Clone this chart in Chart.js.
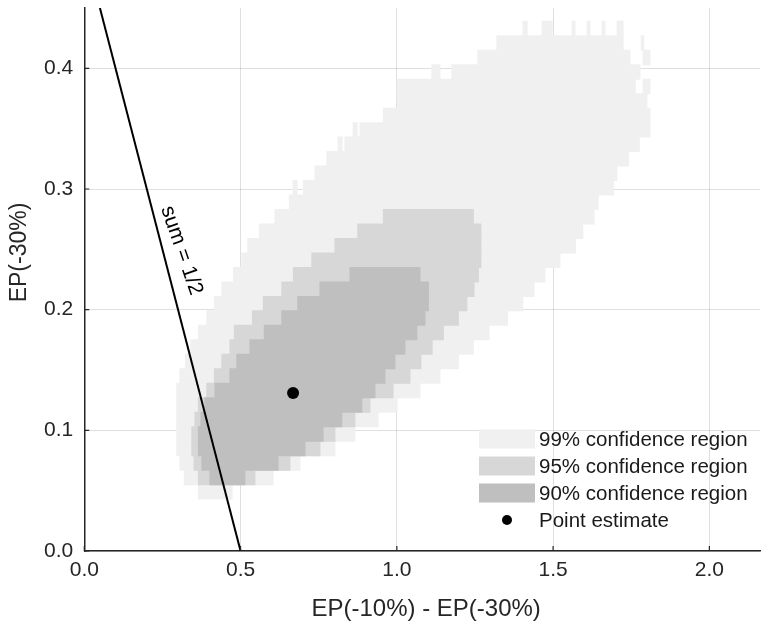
<!DOCTYPE html>
<html><head><meta charset="utf-8">
<script src="https://cdn.jsdelivr.net/npm/chart.js@4/dist/chart.umd.min.js"></script>
<style>html,body{margin:0;padding:0;background:#fff;overflow:hidden;}#wrap{width:761px;height:626px;position:relative;}</style>
</head><body><div id="wrap"><canvas id="c"></canvas></div>
<script>
// ---- data ----
const xTickValues = [0, 0.5, 1.0, 1.5, 2.0];
const yTickValues = [0, 0.1, 0.2, 0.3, 0.4];
const xTitle = 'EP(-10%) - EP(-30%)';
const yTitle = 'EP(-30%)';
const regionLabels = ['99% confidence region', '95% confidence region', '90% confidence region'];
const pointLabel = 'Point estimate';
const lineLabel = 'sum = 1/2';
// centre of each grid row (EP(-30%))
const rowY = [0.433,0.421,0.409,0.397,0.385,0.373,0.361,0.349,0.337,0.325,0.313,0.301,0.289,0.277,0.265,0.253,0.241,0.229,0.217,0.205,0.193,0.181,0.169,0.157,0.145,0.133,0.121,0.109,0.097,0.085,0.073,0.061,0.049];
// per row: covered intervals of EP(-10%) - EP(-30%)
const region99 = [
 [[1.404,1.417],[1.465,1.497],[1.561,1.570],[1.609,1.618],[1.657,1.666],[1.705,1.724]],
 [[1.320,1.724],[1.782,1.790]],
 [[1.259,1.746],[1.788,1.810]],
 [[1.112,1.138],[1.176,1.778]],
 [[1.001,1.763],[1.788,1.810]],
 [[1.001,1.800]],
 [[0.957,1.810]],
 [[0.860,0.873],[0.882,1.810]],
 [[0.812,0.825],[0.834,1.776]],
 [[0.776,1.741]],
 [[0.738,1.704]],
 [[0.668,0.681],[0.701,1.693]],
 [[0.656,1.644]],
 [[0.610,1.631]],
 [[0.560,1.595]],
 [[0.523,1.572]],
 [[0.504,1.522]],
 [[0.477,1.474]],
 [[0.440,1.439]],
 [[0.416,1.403]],
 [[0.392,1.354]],
 [[0.365,1.295]],
 [[0.341,1.245]],
 [[0.324,1.197]],
 [[0.306,1.138]],
 [[0.296,1.074]],
 [[0.296,1.001]],
 [[0.296,0.940]],
 [[0.296,0.866]],
 [[0.296,0.802]],
 [[0.306,0.690]],
 [[0.320,0.604]],
 [[0.365,0.473]]
];
const region95 = [
 [],[],[],[],[],[],[],[],[],[],[],[],[],
 [[0.957,1.245]],
 [[0.875,1.269]],
 [[0.802,1.269]],
 [[0.728,1.269]],
 [[0.669,1.261]],
 [[0.632,1.247]],
 [[0.573,1.224]],
 [[0.538,1.197]],
 [[0.480,1.149]],
 [[0.466,1.113]],
 [[0.440,1.077]],
 [[0.416,1.042]],
 [[0.392,0.988]],
 [[0.365,0.914]],
 [[0.354,0.866]],
 [[0.344,0.802]],
 [[0.344,0.754]],
 [[0.351,0.658]],
 [[0.365,0.546]],
 []
];
const region90 = [
 [],[],[],[],[],[],[],[],[],[],[],[],[],[],[],[],[],
 [[0.850,1.074]],
 [[0.754,1.101]],
 [[0.683,1.101]],
 [[0.632,1.090]],
 [[0.576,1.064]],
 [[0.530,1.026]],
 [[0.488,0.994]],
 [[0.466,0.962]],
 [[0.418,0.930]],
 [[0.386,0.888]],
 [[0.373,0.824]],
 [[0.365,0.764]],
 [[0.365,0.706]],
 [[0.376,0.620]],
 [[0.402,0.514]],
 []
];
const sumLineX = [0.5, 0.05];
const sumLineY = [0.0, 0.45];
const pointX = [0.668];
const pointY = [0.131];

// ---- build ----
const regionColors = ['#f0f0f0', '#d7d7d7', '#bfbfbf'];
function toBars(rows){
  const out = [];
  rows.forEach((segs, i) => segs.forEach(s => out.push({y: rowY[i], x: [s[0], s[1]]})));
  return out;
}
function regionDataset(rows, i, order){
  return {
    type: 'bar', label: regionLabels[i], data: toBars(rows), indexAxis: 'y',
    backgroundColor: regionColors[i], borderWidth: 0, grouped: false,
    barPercentage: 1, categoryPercentage: 1, inflateAmount: 0.5, order: order
  };
}
const FONT = "'Liberation Sans', Arial, Helvetica, sans-serif";
const AXC = '#262626';

const overlay = {
  id: 'overlay',
  afterDraw(chart){
    const ctx = chart.ctx, xs = chart.scales.x, ys = chart.scales.y, a = chart.chartArea;
    // inward tick marks
    ctx.save();
    ctx.strokeStyle = AXC; ctx.lineWidth = 1.2;
    ctx.beginPath();
    xTickValues.forEach(v => { const p = xs.getPixelForValue(v); ctx.moveTo(p, a.bottom); ctx.lineTo(p, a.bottom - 5); });
    yTickValues.forEach(v => { const p = ys.getPixelForValue(v); ctx.moveTo(a.left, p); ctx.lineTo(a.left + 5, p); });
    ctx.stroke();
    ctx.restore();
    ctx.save();
    // text along the sum line
    const tx = xs.getPixelForValue(0.311), ty = ys.getPixelForValue(0.249);
    ctx.translate(tx, ty);
    ctx.rotate(71 * Math.PI / 180);
    ctx.fillStyle = '#000';
    ctx.font = '21px ' + FONT;
    ctx.textAlign = 'center'; ctx.textBaseline = 'middle';
    ctx.fillText(lineLabel, 0, 0);
    ctx.restore();
    // axis titles
    ctx.save();
    ctx.fillStyle = AXC;
    ctx.font = '24px ' + FONT;
    ctx.textAlign = 'center'; ctx.textBaseline = 'alphabetic';
    ctx.fillText(xTitle, (a.left + a.right) / 2 + 4, 615.5);
    ctx.translate(26, (a.top + a.bottom) / 2 - 27);
    ctx.rotate(-Math.PI / 2);
    ctx.font = '23px ' + FONT;
    ctx.fillText(yTitle, 0, 0);
    ctx.restore();
    // legend
    ctx.save();
    ctx.font = '20.5px ' + FONT;
    ctx.textBaseline = 'middle'; ctx.textAlign = 'left';
    const bx = a.right - 281, bw = 56, bh = 19, tx0 = a.right - 221;
    const ys0 = [a.bottom - 112, a.bottom - 85, a.bottom - 58, a.bottom - 31];
    for (let i = 0; i < 3; i++){
      ctx.fillStyle = regionColors[i];
      ctx.fillRect(bx, ys0[i] - bh/2, bw, bh);
      ctx.fillStyle = '#1a1a1a';
      ctx.fillText(regionLabels[i], tx0, ys0[i] + 1);
    }
    ctx.fillStyle = '#000';
    ctx.beginPath(); ctx.arc(bx + bw/2, ys0[3], 5, 0, Math.PI*2); ctx.fill();
    ctx.fillStyle = '#1a1a1a';
    ctx.fillText(pointLabel, tx0, ys0[3] + 1);
    ctx.restore();
  }
};

new Chart(document.getElementById('c'), {
  type: 'bar',
  data: {
    datasets: [
      regionDataset(region99, 0, 10),
      regionDataset(region95, 1, 9),
      regionDataset(region90, 2, 8),
      { type: 'line', label: lineLabel, data: sumLineX.map((x, i) => ({x, y: sumLineY[i]})),
        borderColor: '#000', borderWidth: 2, pointRadius: 0, fill: false, order: 2 },
      { type: 'line', label: pointLabel, data: pointX.map((x, i) => ({x, y: pointY[i]})),
        showLine: false, pointRadius: 6, pointBackgroundColor: '#000', pointBorderWidth: 0, order: 1 }
    ]
  },
  options: {
    responsive: true, maintainAspectRatio: false, animation: false, events: [],
    layout: { autoPadding: false, padding: { left: 0, right: 1, top: 8, bottom: 0 } },
    plugins: { legend: { display: false }, tooltip: { enabled: false } },
    scales: {
      x: {
        type: 'linear', min: 0, max: 2.162, offset: false, z: 1,
        afterBuildTicks: s => { s.ticks = xTickValues.map(v => ({value: v})); },
        afterFit: s => { s.height = 75; s.paddingLeft = 0; s.paddingRight = 0; },
        grid: { color: 'rgba(38,38,38,0.15)', lineWidth: 1, drawTicks: false, offset: false },
        border: { color: AXC, width: 1.5 },
        ticks: { color: AXC, font: { family: FONT, size: 21 }, padding: 7, maxRotation: 0,
                 callback: v => v.toFixed(1) },
        title: { display: false }
      },
      y: {
        type: 'linear', min: 0, max: 0.45, offset: false, z: 1,
        afterBuildTicks: s => { s.ticks = yTickValues.map(v => ({value: v})); },
        afterFit: s => { s.width = 84.3; s.paddingTop = 0; s.paddingBottom = 0; s.paddingLeft = 0; s.paddingRight = 0; },
        grid: { color: 'rgba(38,38,38,0.15)', lineWidth: 1, drawTicks: false, offset: false },
        border: { color: AXC, width: 1.5 },
        ticks: { color: AXC, font: { family: FONT, size: 21 }, padding: 11,
                 callback: v => v.toFixed(1) },
        title: { display: false }
      }
    }
  },
  plugins: [overlay]
});
</script></body></html>
